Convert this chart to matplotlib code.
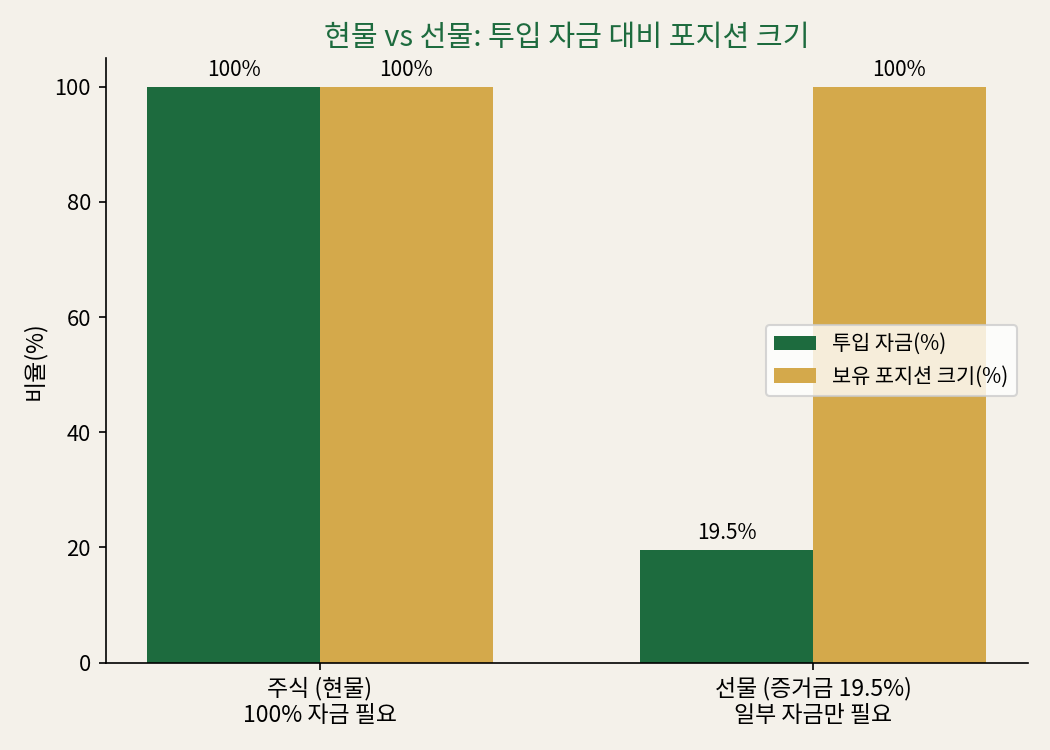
import numpy as np
import matplotlib.pyplot as plt

plt.rcParams['font.family'] = ['Noto Sans CJK KR', 'DejaVu Sans']

categories = ["주식 (현물)\n100% 자금 필요", "선물 (증거금 19.5%)\n일부 자금만 필요"]
invested = [100, 19.5]
position = [100, 100]
series_names = ["투입 자금(%)", "보유 포지션 크기(%)"]

BG = "#F4F1EA"
GREEN = "#1D6B3E"
GOLD = "#D4A94B"

fig, ax = plt.subplots(figsize=(7, 5), dpi=150)
fig.patch.set_facecolor(BG)
ax.set_facecolor(BG)

x = np.arange(len(categories))
w = 0.35
b1 = ax.bar(x - w / 2, invested, w, color=GREEN, label=series_names[0])
b2 = ax.bar(x + w / 2, position, w, color=GOLD, label=series_names[1])

for bars in (b1, b2):
    for r in bars:
        h = r.get_height()
        label = f"{h:g}%"
        ax.annotate(label, (r.get_x() + r.get_width() / 2, h),
                    xytext=(0, 3), textcoords="offset points",
                    ha="center", va="bottom", fontsize=10)

ax.set_xticks(x)
ax.set_xticklabels(categories, fontsize=11)
ax.tick_params(axis="y", labelsize=10.5)
ax.set_ylabel("비율(%)", fontsize=11)
ax.set_title("현물 vs 선물: 투입 자금 대비 포지션 크기", color=GREEN, fontsize=14)
ax.spines["top"].set_visible(False)
ax.spines["right"].set_visible(False)
ax.legend(loc="center right", fontsize=10)

fig.tight_layout()
fig.savefig("out.png", dpi=150, facecolor=BG)
